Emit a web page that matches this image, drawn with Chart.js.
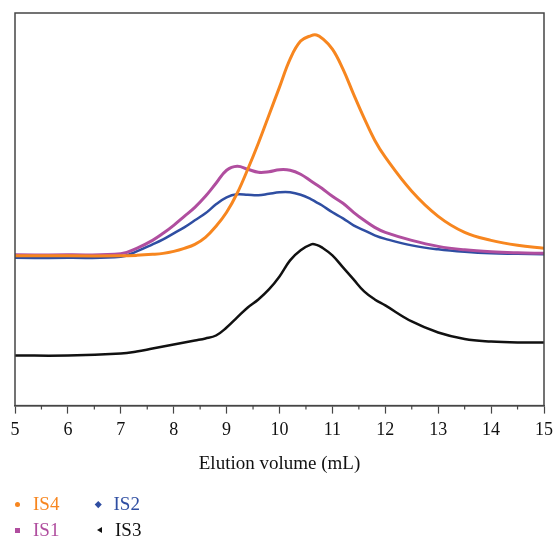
<!DOCTYPE html>
<html>
<head>
<meta charset="utf-8">
<script src="https://cdn.jsdelivr.net/npm/chart.js@4"></script>
<style>
  html, body { margin: 0; padding: 0; background: #fff; }
  #wrap { position: relative; width: 555px; height: 541px; }
  #legend {
    position: absolute; left: 15px; top: 493px;
    display: grid; grid-template-columns: 81px 81px; row-gap: 4px;
    font-family: "Liberation Serif", "DejaVu Serif", serif; font-size: 19px;
  }
  .item { display: flex; align-items: center; height: 22px; }
  .mk { display: inline-block; width: 6px; height: 6px; margin-right: 13px; }
</style>
</head>
<body>
<div id="wrap">
  <canvas id="c" width="555" height="541"></canvas>
  <div id="legend"></div>
</div>
<script>
  // elution volume (mL), shared sampling for all traces
  const volume = [5, 6, 7, 7.3, 7.6, 7.8, 8, 8.2, 8.4, 8.6, 8.8, 9, 9.2, 9.4, 9.6, 9.8, 10, 10.2, 10.4,
    10.6, 10.7, 10.8, 11, 11.2, 11.4, 11.6, 11.8, 12, 12.5, 13, 13.5, 14, 14.5, 15];

  // detector signal, arbitrary units (traces are offset)
  const is4 = [149.5, 149.5, 149.5, 150, 151, 152, 154, 157, 161, 168, 179, 193, 212, 236, 262, 290, 318, 346, 364,
    369.5, 370, 367, 356, 336, 311, 287, 265, 248, 214, 189, 173, 165, 160, 157];
  const is1 = [150.5, 150.5, 151.5, 157, 165, 172, 180, 189, 198, 209, 222, 235, 239, 236, 233, 233.5, 235.5, 235, 231,
    224, 220.5, 217, 209, 202, 193, 185, 178, 173, 165, 159, 155.5, 153.5, 152.5, 152];
  const is2 = [147.5, 147.5, 148.5, 154, 161, 166, 172, 178, 185, 192, 201, 208, 211, 210.5, 210, 211.5, 213, 213, 210.5,
    206, 203, 200, 193, 187, 180, 175, 170, 166.5, 160, 156, 153.5, 152, 151.5, 151];
  const is3 = [50, 50, 52, 54, 57, 59, 61, 63, 65, 67, 70, 78, 88, 98, 106, 116, 129, 145, 155,
    161, 160.5, 158, 150, 138, 126, 114, 106, 100, 84, 73, 66.5, 64, 63, 63];

  const xTicks = [5, 6, 7, 8, 9, 10, 11, 12, 13, 14, 15];

  const series = [
    { label: "IS4", data: is4, color: "#f7861f", width: 3, marker: "circle" },
    { label: "IS2", data: is2, color: "#2f4ea2", width: 2.5, marker: "diamond" },
    { label: "IS1", data: is1, color: "#b04e9f", width: 3, marker: "square" },
    { label: "IS3", data: is3, color: "#111111", width: 2.5, marker: "triangle" },
  ];
  // draw order: orange on top, then purple, blue, black
  const drawOrder = { IS4: 0, IS1: 1, IS2: 2, IS3: 3 };

  const AXIS = "#454545";
  const SERIF = "'Liberation Serif', 'DejaVu Serif', serif";

  const framePlugin = {
    id: "frame",
    afterDraw(chart) {
      const { ctx, chartArea: a } = chart;
      const sx = chart.scales.x;
      ctx.save();
      ctx.strokeStyle = AXIS;
      ctx.lineWidth = 1.5;
      ctx.strokeRect(a.left, a.top, a.right - a.left, a.bottom - a.top);
      // minor ticks between the labelled ones
      ctx.lineWidth = 1.2;
      ctx.beginPath();
      for (let i = 0; i < xTicks.length - 1; i++) {
        const px = sx.getPixelForValue((xTicks[i] + xTicks[i + 1]) / 2);
        ctx.moveTo(px, a.bottom);
        ctx.lineTo(px, a.bottom + 4);
      }
      ctx.stroke();
      ctx.restore();
    },
  };

  new Chart(document.getElementById("c"), {
    type: "line",
    data: {
      datasets: series.map((s) => ({
        label: s.label,
        data: volume.map((v, i) => ({ x: v, y: s.data[i] })),
        borderColor: s.color,
        borderWidth: s.width,
        pointRadius: 0,
        tension: 0.4,
        fill: false,
        order: drawOrder[s.label],
      })),
    },
    options: {
      responsive: false,
      animation: false,
      events: [],
      layout: { padding: { left: 15, right: 11, top: 13, bottom: 66 } },
      plugins: { legend: { display: false }, tooltip: { enabled: false } },
      scales: {
        x: {
          type: "linear",
          min: 5,
          max: 15,
          afterBuildTicks: (scale) => { scale.ticks = xTicks.map((v) => ({ value: v })); },
          // edge labels may hang over the padding, keep the plot box where it is
          afterFit: (scale) => { scale.paddingLeft = 0; scale.paddingRight = 0; },
          ticks: { color: "#111", padding: 6, font: { family: SERIF, size: 18 }, maxRotation: 0 },
          grid: { drawOnChartArea: false, drawTicks: true, tickLength: 8, tickColor: AXIS, tickWidth: 1.2 },
          border: { display: true, color: AXIS, width: 1.5 },
          title: {
            display: true,
            text: "Elution volume (mL)",
            color: "#111",
            font: { family: SERIF, size: 19 },
            padding: { top: 5, bottom: 0 },
          },
        },
        y: { display: false, min: 0, max: 392 },
      },
    },
    plugins: [framePlugin],
  });

  // two-column legend under the plot
  const legend = document.getElementById("legend");
  series.forEach((s) => {
    const item = document.createElement("div");
    item.className = "item";
    item.style.color = s.color;
    const mk = document.createElement("span");
    mk.className = "mk";
    if (s.marker === "circle") {
      Object.assign(mk.style, { width: "5px", height: "5px", borderRadius: "50%", background: s.color });
    } else if (s.marker === "square") {
      Object.assign(mk.style, { width: "5px", height: "5px", background: s.color });
    } else if (s.marker === "diamond") {
      Object.assign(mk.style, { width: "4.5px", height: "4.5px", background: s.color, transform: "rotate(45deg)" });
    } else {
      Object.assign(mk.style, {
        width: "0", height: "0", borderTop: "3px solid transparent", borderBottom: "3px solid transparent",
        borderRight: "5px solid " + s.color, marginLeft: "1px",
      });
    }
    item.appendChild(mk);
    item.appendChild(document.createTextNode(s.label));
    legend.appendChild(item);
  });
</script>
</body>
</html>
